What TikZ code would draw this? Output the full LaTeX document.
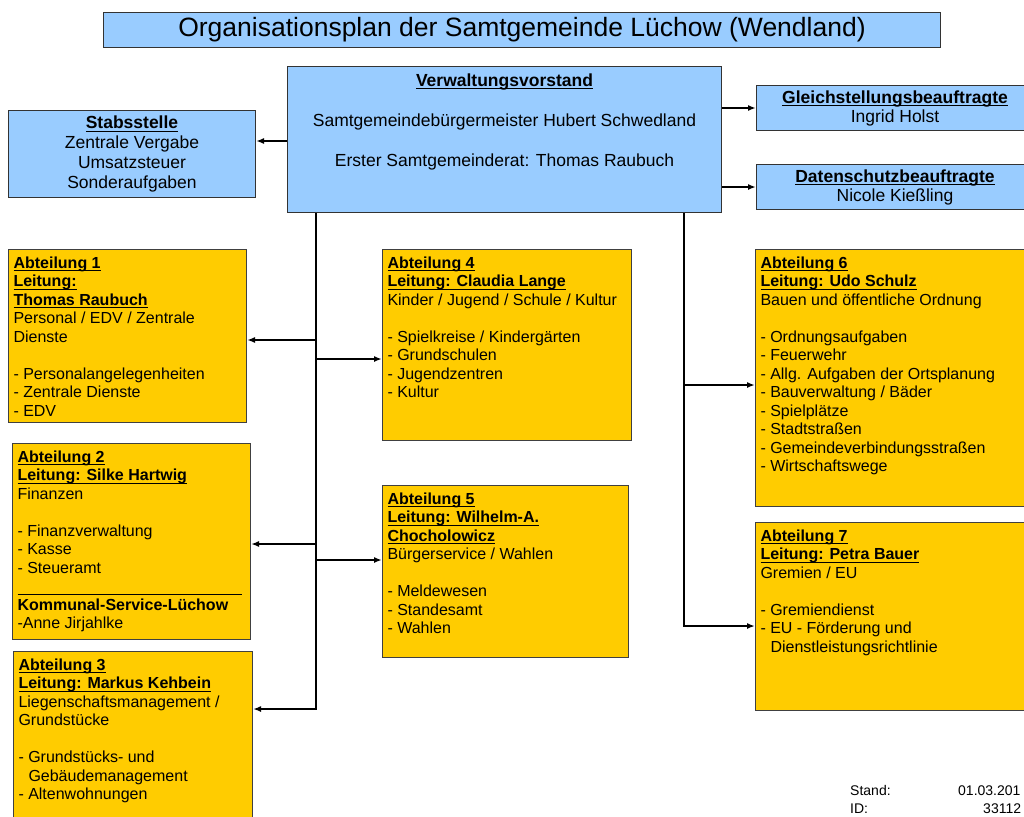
\documentclass[tikz,border=0pt]{standalone}
\usepackage{fontspec}
\setmainfont{Liberation Sans}
\usetikzlibrary{arrows.meta}

\definecolor{officeblue}{RGB}{153,204,255}
\definecolor{deptyellow}{RGB}{255,204,0}

\newcommand\titlefont{\fontsize{26.5pt}{30pt}\selectfont}
\newcommand\officefont{\fontsize{17.5pt}{20pt}\selectfont}
\newcommand\smallofficefont{\fontsize{17.5pt}{19pt}\selectfont}
\newcommand\deptfont{\fontsize{16pt}{18.5pt}\selectfont}
\newcommand\footfont{\fontsize{14pt}{18pt}\selectfont}
% bold heading with underline
\newcommand\hd[1]{\leavevmode\setbox0\hbox{\bfseries #1}\rlap{\rule[-3pt]{\wd0}{1pt}}\box0}
\newcommand\deptbox[3]{\parbox[t][#2][t]{#1}{\raggedright #3}}

\begin{document}
\begin{tikzpicture}[x=1pt, y=-1pt,
    office/.style={draw=black!80, line width=1pt, fill=officeblue,
      anchor=north west, align=center, font=\officefont, inner sep=0pt},
    dept/.style={draw=black!75, line width=1pt, fill=deptyellow,
      anchor=north west, inner xsep=5pt, inner ysep=7pt, font=\deptfont},
    foot/.style={anchor=base west, font=\footfont, inner sep=0pt},
    bus/.style={-{Latex[length=8pt,width=6pt]}, line width=2pt},
    link/.style={-{Latex[length=8pt,width=6pt]}, line width=1.6pt}
  ]
  \useasboundingbox (0,0) rectangle (1024,816);
  \clip (0,0) rectangle (1024,816);

  \node[office, minimum width=837pt, minimum height=35pt, font=\titlefont] (title) at (103,12)
    {Organisationsplan der Samtgemeinde Lüchow (Wendland)};

  % Leitung und Stabsstellen
  \node[office, inner ysep=7pt] (vorstand) at (287,66)
    {\parbox[t][132pt][t]{434pt}{\centering\hd{Verwaltungsvorstand}\\[\baselineskip]
      Samtgemeindebürgermeister Hubert Schwedland\\[\baselineskip]
      Erster Samtgemeinderat: Thomas Raubuch}};
  \node[office, minimum width=247pt, minimum height=87pt] (stab) at (8,110)
    {\hd{Stabsstelle}\\Zentrale Vergabe\\Umsatzsteuer\\Sonderaufgaben};
  \node[office, minimum width=277pt, minimum height=45pt, font=\smallofficefont] (gleich) at (756,85)
    {\hd{Gleichstellungsbeauftragte}\\Ingrid Holst};
  \node[office, minimum width=277pt, minimum height=45pt, font=\smallofficefont] (daten) at (756,164)
    {\hd{Datenschutzbeauftragte}\\Nicole Kießling};

  % Abteilungen
  \node[dept] (abt1) at (8,249) {\deptbox{228pt}{159pt}{\hd{Abteilung 1}\\\hd{Leitung:}\\\hd{Thomas Raubuch}\\
    Personal / EDV / Zentrale\\Dienste\\[\baselineskip]
    - Personalangelegenheiten\\- Zentrale Dienste\\- EDV}};
  \node[dept] (abt2) at (12,443) {\deptbox{228pt}{182pt}{\hd{Abteilung 2}\\\hd{Leitung: Silke Hartwig}\\
    Finanzen\\[\baselineskip]
    - Finanzverwaltung\\- Kasse\\- Steueramt\\\rule[-3.5pt]{224pt}{0.8pt}\\
    \textbf{Kommunal-Service-Lüchow}\\-Anne Jirjahlke}};
  \node[dept] (abt3) at (13,651) {\deptbox{229pt}{166pt}{\hd{Abteilung 3}\\\hd{Leitung: Markus Kehbein}\\
    Liegenschaftsmanagement /\\Grundstücke\\[\baselineskip]
    - Grundstücks- und\\\hspace*{10pt}Gebäudemanagement\\- Altenwohnungen}};
  \node[dept] (abt4) at (382,249) {\deptbox{239pt}{177pt}{\hd{Abteilung 4}\\\hd{Leitung: Claudia Lange}\\
    Kinder / Jugend / Schule / Kultur\\[\baselineskip]
    - Spielkreise / Kindergärten\\- Grundschulen\\- Jugendzentren\\- Kultur}};
  \node[dept] (abt5) at (382,485) {\deptbox{236pt}{158pt}{\hd{Abteilung 5}\\\hd{Leitung: Wilhelm-A.}\\\hd{Chocholowicz}\\
    Bürgerservice / Wahlen\\[\baselineskip]
    - Meldewesen\\- Standesamt\\- Wahlen}};
  \node[dept] (abt6) at (755,249) {\deptbox{275pt}{243pt}{\hd{Abteilung 6}\\\hd{Leitung: Udo Schulz}\\
    Bauen und öffentliche Ordnung\\[\baselineskip]
    - Ordnungsaufgaben\\- Feuerwehr\\- Allg. Aufgaben der Ortsplanung\\- Bauverwaltung / Bäder\\
    - Spielplätze\\- Stadtstraßen\\- Gemeindeverbindungsstraßen\\- Wirtschaftswege}};
  \node[dept] (abt7) at (755,522) {\deptbox{275pt}{174pt}{\hd{Abteilung 7}\\\hd{Leitung: Petra Bauer}\\
    Gremien / EU\\[\baselineskip]
    - Gremiendienst\\- EU - Förderung und\\\hspace*{10pt}Dienstleistungsrichtlinie}};

  % Stand
  \node[foot] (stand) at (850,795) {Stand:};
  \node[foot] (standdate) at (958,795) {01.03.201};
  \node[foot] (idlabel) at (850,813) {ID:};
  \node[foot] (standid) at (983,813) {33112};

  % Verbindungen
  \coordinate (vs) at (287,141);
  \draw[link] (vs) -- (vs -| stab.east);
  \draw[link] (vorstand.east |- gleich.west) -- (gleich.west);
  \draw[link] (vorstand.east |- daten.west) -- (daten.west);

  \coordinate (lend) at (316,709);
  \coordinate (rend) at (684,626);
  \draw[bus] (vorstand.south -| lend) |- (abt3.east |- lend);
  \draw[bus] (vorstand.south -| rend) |- (abt7.west |- rend);
  \foreach \d/\y in {abt1/340, abt2/544} {
    \coordinate (j\d) at (316,\y);
    \draw[link] (j\d) -- (j\d -| \d.east);
  }
  \foreach \d/\y in {abt4/359, abt5/560} {
    \coordinate (j\d) at (316,\y);
    \draw[link] (j\d) -- (j\d -| \d.west);
  }
  \coordinate (jabt6) at (684,385);
  \draw[link] (jabt6) -- (jabt6 -| abt6.west);
\end{tikzpicture}
\end{document}
